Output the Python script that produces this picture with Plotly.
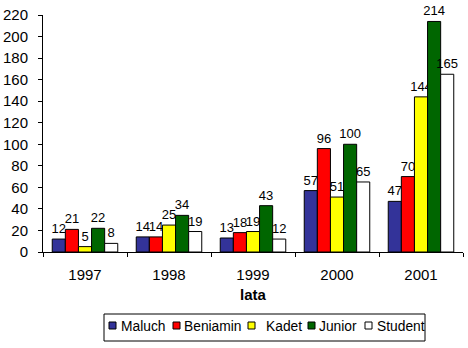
import plotly.graph_objects as go

years = ["1997", "1998", "1999", "2000", "2001"]
maluch = [12, 14, 13, 57, 47]
beniamin = [21, 14, 18, 96, 70]
kadet = [5, 25, 19, 51, 144]
junior = [22, 34, 43, 100, 214]
student = [8, 19, 12, 65, 165]

names = ["Maluch", "Beniamin", "Kadet", "Junior", "Student"]
values = [maluch, beniamin, kadet, junior, student]
colors = ["#333399", "#FF0000", "#FFFF00", "#006600", "#FFFFFF"]

font = "Liberation Sans, Arial, sans-serif"
W, H = 468, 348
ML, MR, MT, MB = 43, 5, 15, 96
PW, PH = W - ML - MR, H - MT - MB

def px(x):
    return (x - ML) / PW

def py(y):
    return (H - MB - y) / PH

fig = go.Figure()
for name, vals, col in zip(names, values, colors):
    fig.add_trace(go.Bar(
        name=name, x=years, y=vals,
        marker=dict(color=col, line=dict(color="black", width=1)),
        text=[str(v) for v in vals], textposition="outside",
        constraintext="none", cliponaxis=False,
        textfont=dict(family=font, size=13, color="black"),
        showlegend=False,
    ))

# legend box drawn in paper coordinates
shapes = [dict(type="rect", xref="paper", yref="paper",
               x0=px(104), x1=px(425), y0=py(341), y1=py(314),
               line=dict(color="black", width=1), fillcolor="white")]
annotations = []
sq_x = [109, 173, 248, 308, 365]
tx_x = [119, 182, 264, 317, 375]
for name, col, sx, tx in zip(names, colors, sq_x, tx_x):
    shapes.append(dict(type="rect", xref="paper", yref="paper",
                       x0=px(sx), x1=px(sx + 7), y0=py(329), y1=py(322),
                       line=dict(color="black", width=1), fillcolor=col))
    annotations.append(dict(xref="paper", yref="paper", x=px(tx), y=py(326),
                            xanchor="left", yanchor="middle", showarrow=False,
                            text=name, font=dict(family=font, size=13.8, color="black")))

fig.update_layout(
    width=W, height=H,
    margin=dict(l=ML, r=MR, t=MT, b=MB, autoexpand=False),
    paper_bgcolor="white", plot_bgcolor="white",
    barmode="group", bargap=0.22, bargroupgap=0,
    font=dict(family=font, size=13, color="black"),
    showlegend=False,
    shapes=shapes, annotations=annotations,
    xaxis=dict(showline=True, linecolor="black", linewidth=1, ticks="outside",
               tickson="boundaries", ticklen=4, tickcolor="black",
               ticklabelstandoff=9,
               title=dict(text="<b>lata</b>", font=dict(size=15), standoff=7),
               tickfont=dict(size=15)),
    yaxis=dict(range=[0, 220], dtick=20, showline=True, linecolor="black", linewidth=1,
               ticks="outside", ticklen=4, tickcolor="black", showgrid=False,
               ticklabelstandoff=7,
               zeroline=False, tickfont=dict(size=15)),
)
fig.write_html("out.html")
